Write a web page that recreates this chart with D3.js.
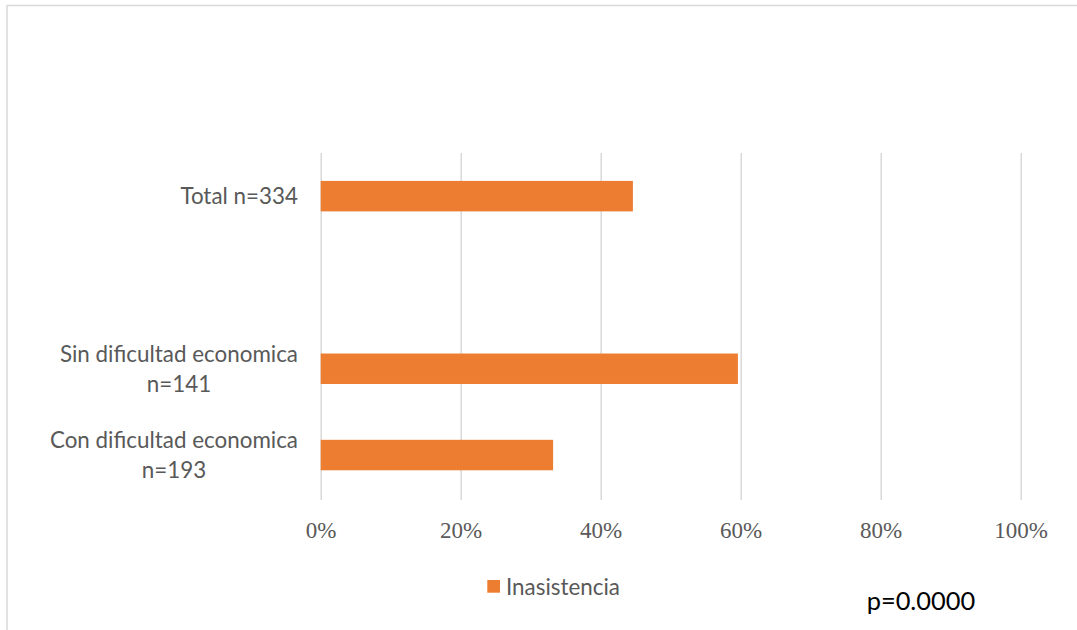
<!DOCTYPE html>
<html>
<head>
<meta charset="utf-8">
<script src="https://cdn.jsdelivr.net/npm/d3@7"></script>
<style>
  html, body { margin: 0; padding: 0; background: #ffffff; }
  svg { display: block; }
</style>
</head>
<body>
<svg id="chart" width="1077" height="630"></svg>
<script>
// Categories listed top to bottom; the blank entry is an unused slot in the axis.
const categories = ["Total n=334", "", "Sin dificultad economica\nn=141", "Con dificultad economica\nn=193"];
const inasistencia = [44.6, null, 59.6, 33.2];
const tickValues = [0, 20, 40, 60, 80, 100];
const seriesName = "Inasistencia";
const pValueText = "p=0.0000";

const W = 1077, H = 630;
const plot = { left: 320.7, right: 1020.7, top: 153, bottom: 500 };
const barColor = "#ED7D31";
const gridColor = "#d9d9d9";
const textGray = "#595959";
const sans = "Lato, 'Open Sans', sans-serif";
const serif = "'Liberation Serif', 'DejaVu Serif', serif";

const svg = d3.select("#chart");

// Outer frame (top and left edges)
svg.append("path")
  .attr("d", `M7,${H} L7,5.5 L${W},5.5`)
  .attr("fill", "none")
  .attr("stroke", gridColor)
  .attr("stroke-width", 1.5);

const x = d3.scaleLinear().domain([0, 100]).range([plot.left, plot.right]);
const y = d3.scaleBand()
  .domain(categories.map((c, i) => i))
  .range([plot.top, 498.2])
  .paddingInner(0.647)
  .paddingOuter(0.3235);

// Vertical gridlines and percentage tick labels
const xAxis = d3.axisBottom(x)
  .tickValues(tickValues)
  .tickFormat(d => d + "%")
  .tickSize(-(plot.bottom - plot.top))
  .tickPadding(22);

const gx = svg.append("g")
  .attr("transform", `translate(0,${plot.bottom})`)
  .call(xAxis);
gx.select(".domain").remove();
gx.selectAll(".tick line")
  .attr("stroke", gridColor)
  .attr("stroke-width", 1.5);
gx.selectAll(".tick text")
  .attr("fill", textGray)
  .style("font-family", serif)
  .style("font-size", "23px");

// Bars
svg.append("g")
  .selectAll("rect")
  .data(categories.map((c, i) => ({ i, v: inasistencia[i] })).filter(d => d.v != null))
  .join("rect")
  .attr("x", x(0))
  .attr("y", d => y(d.i))
  .attr("width", d => x(d.v) - x(0))
  .attr("height", y.bandwidth())
  .attr("fill", barColor);

// Category labels: each block is right-aligned, lines centred within the block
const labelRight = 298;
const lineGap = 30;
categories.forEach((c, i) => {
  if (!c) return;
  const lines = c.split("\n");
  const cy = y(i) + y.bandwidth() / 2;
  const t = svg.append("text")
    .attr("fill", textGray)
    .style("font-family", sans)
    .style("font-size", "22.4px")
    .attr("text-anchor", "middle");
  const spans = lines.map((ln, k) =>
    t.append("tspan")
      .attr("y", cy + (k - (lines.length - 1) / 2) * lineGap)
      .attr("dy", "0.36em")
      .text(ln)
  );
  const maxW = d3.max(spans, s => s.node().getComputedTextLength());
  spans.forEach(s => s.attr("x", labelRight - maxW / 2));
});

// Legend
svg.append("rect")
  .attr("x", 487.3).attr("y", 580)
  .attr("width", 12.7).attr("height", 12.7)
  .attr("fill", barColor);
svg.append("text")
  .attr("x", 506).attr("y", 587)
  .attr("dy", "0.36em")
  .attr("fill", textGray)
  .style("font-family", sans)
  .style("font-size", "22.4px")
  .text(seriesName);

// Significance annotation
svg.append("text")
  .attr("x", 866.7).attr("y", 610)
  .attr("fill", "#000000")
  .style("font-family", sans)
  .style("font-size", "25.4px")
  .text(pValueText);
</script>
</body>
</html>
